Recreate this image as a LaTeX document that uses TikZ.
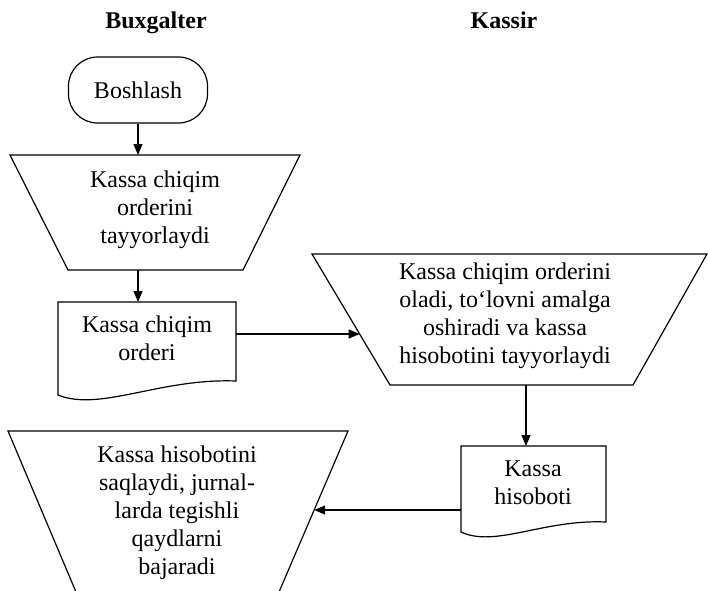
\documentclass[tikz,border=0pt]{standalone}
\usepackage{fontspec}
\setmainfont{Liberation Serif}
\usetikzlibrary{arrows.meta}
\begin{document}
\begin{tikzpicture}[x=1pt,y=-1pt,
  shapeline/.style={draw=black, line width=1.2pt},
  arr/.style={draw=black, line width=1.2pt, -{Triangle[length=11pt,width=9pt]}},
  txt/.style={align=center, inner sep=0pt, font=\fontsize{24}{28}\selectfont},
  head/.style={font=\fontsize{24}{28}\selectfont\bfseries, inner sep=0pt, anchor=base}]
\useasboundingbox[fill=white] (0,0) rectangle (708,590);

% headers
\node[head] (h1) at (156,28) {Buxgalter};
\node[head] (h2) at (504,28) {Kassir};

% start
\node[txt, draw, line width=1.2pt, rounded corners=29pt, minimum width=139pt, minimum height=66pt] (start) at (138,90) {Boshlash};

% trapezoid 1
\coordinate (t1a) at (10,155);
\coordinate (t1b) at (300,155);
\coordinate (t1c) at (243,270);
\coordinate (t1d) at (68,270);
\draw[shapeline] (t1a) -- (t1b) -- (t1c) -- (t1d) -- cycle;
\node[txt] (t1) at (155,209.4) {Kassa chiqim\\orderini\\tayyorlaydi};

% document 1
\coordinate (d1a) at (58,302);
\coordinate (d1b) at (236,302);
\coordinate (d1c) at (236,381);
\coordinate (d1d) at (58,395);
\draw[shapeline] (d1d) -- (d1a) -- (d1b) -- (d1c) .. controls (160,378) and (100,412) .. (d1d) -- cycle;
\node[txt] (d1) at (147,337.8) {Kassa chiqim\\orderi};

% trapezoid 2
\coordinate (t2a) at (312,254);
\coordinate (t2b) at (707,254);
\coordinate (t2c) at (633,385);
\coordinate (t2d) at (390,385);
\draw[shapeline] (t2a) -- (t2b) -- (t2c) -- (t2d) -- cycle;
\node[txt] (t2) at (505,315.4) {Kassa chiqim orderini\\oladi, to‘lovni amalga\\oshiradi va kassa\\hisobotini tayyorlaydi};

% document 2
\coordinate (d2a) at (461,446);
\coordinate (d2b) at (606,446);
\coordinate (d2c) at (606,522);
\coordinate (d2d) at (461,532);
\draw[shapeline] (d2d) -- (d2a) -- (d2b) -- (d2c) .. controls (544,519) and (495,548) .. (d2d) -- cycle;
\node[txt] (d2) at (533,482.8) {Kassa\\hisoboti};

% trapezoid 3 (cut off at the bottom)
\coordinate (t3a) at (8,431);
\coordinate (t3b) at (348,431);
\coordinate (t3c) at (279,592);
\coordinate (t3d) at (76,592);
\draw[shapeline] (t3d) -- (t3a) -- (t3b) -- (t3c);
\node[txt] (t3) at (177,512.4) {Kassa hisobotini\\saqlaydi, jurnal-\\larda tegishli\\qaydlarni\\bajaradi};

% connectors
\coordinate (t1o) at (138,270);
\coordinate (d1o) at (236,334);
\coordinate (t2i) at (359.6,334);
\coordinate (t2o) at (526,385);
\coordinate (d2o) at (461,510);
\coordinate (t3i) at (314.2,510);
\draw[arr] (start.south) -- (start.south |- t1a);
\draw[arr] (t1o) -- (t1o |- d1a);
\draw[arr] (d1o) -- (t2i);
\draw[arr] (t2o) -- (t2o |- d2a);
\draw[arr] (d2o) -- (t3i);
\end{tikzpicture}
\end{document}
